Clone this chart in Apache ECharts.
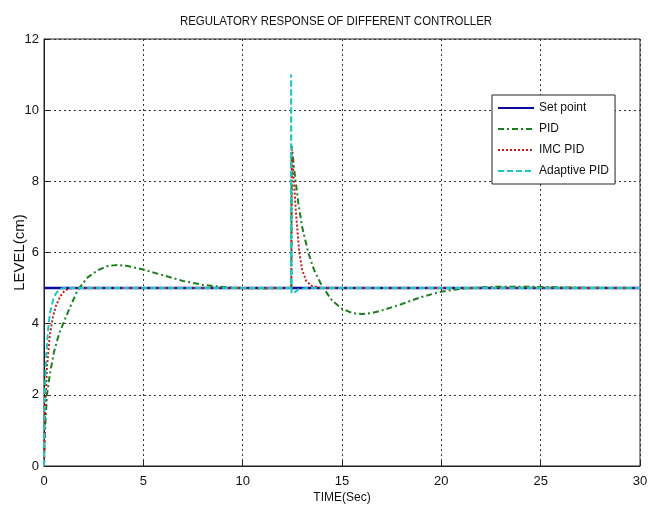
<!DOCTYPE html>
<html>
<head>
<meta charset="utf-8">
<script src="https://cdn.jsdelivr.net/npm/echarts@6/dist/echarts.min.js"></script>
<style>
  html, body { margin: 0; padding: 0; background: #fff; }
  #main { width: 648px; height: 507px; }
</style>
</head>
<body>
<div id="main"></div>
<script>
// time / level pairs
var setT = [0, 30];
var setY = [5, 5];

var pidT = [0, 0.05, 0.15, 0.3, 0.5, 0.75, 1.0, 1.3, 1.7, 2.2, 2.7, 3.2, 3.7, 4.2, 5, 6, 7, 8, 9, 10, 11, 12, 12.45,
            12.47, 12.6, 12.8, 13.0, 13.3, 13.6, 14.0, 14.5, 15.0, 15.5, 16.0, 16.5, 17, 18, 19, 20, 21, 22, 23, 24, 25, 27, 30];
var pidY = [0, 1.0, 2.0, 2.6, 3.2, 3.7, 4.05, 4.45, 4.95, 5.3, 5.5, 5.62, 5.65, 5.62, 5.52, 5.36, 5.2, 5.09, 5.03, 5.0, 4.99, 5.0, 5.0,
            9.0, 8.3, 7.4, 6.7, 6.0, 5.5, 5.05, 4.65, 4.42, 4.3, 4.27, 4.3, 4.37, 4.55, 4.75, 4.9, 4.98, 5.02, 5.04, 5.04, 5.03, 5.01, 5.0];

var imcT = [0, 0.05, 0.15, 0.3, 0.45, 0.6, 0.8, 1.0, 1.2, 1.5, 12.45, 12.47, 12.55, 12.7, 12.85, 13.0, 13.2, 13.5, 14, 30];
var imcY = [0, 1.5, 2.8, 3.7, 4.2, 4.5, 4.75, 4.9, 4.98, 5.0, 5.0, 8.9, 8.2, 7.0, 6.0, 5.5, 5.2, 5.05, 5.0, 5.0];

var adpT = [0, 0.03, 0.1, 0.2, 0.3, 0.45, 0.6, 0.8, 1.0, 12.43, 12.44, 12.46, 12.6, 12.8, 13.2, 30];
var adpY = [0, 1.8, 3.0, 3.8, 4.3, 4.65, 4.85, 4.97, 5.0, 5.0, 11.0, 4.85, 4.87, 4.97, 5.0, 5.0];

var xTicks = [0, 5, 10, 15, 20, 25, 30];
var yTicks = [0, 2, 4, 6, 8, 10, 12];

function pairs(t, y) {
    var out = [];
    for (var i = 0; i < t.length; i++) out.push([t[i], y[i]]);
    return out;
}

var font = "'Liberation Sans', Arial, sans-serif";
var chart = echarts.init(document.getElementById('main'));

var gridLine = { show: true, lineStyle: { color: '#333', type: [2, 3], width: 1 } };

chart.setOption({
    animation: false,
    backgroundColor: '#fff',
    // title drawn as text squeezed a bit, the original uses a narrow face
    graphic: [{
        type: 'text', x: 336, y: 21, scaleX: 0.88,
        style: {
            text: 'REGULATORY RESPONSE OF DIFFERENT CONTROLLER',
            font: '13px ' + font, fill: '#111', align: 'center', verticalAlign: 'middle'
        }
    }],
    grid: { left: 44, right: 8, top: 39, bottom: 41, containLabel: false, outerBoundsMode: 'none',
            show: true, borderColor: '#222', borderWidth: 1, backgroundColor: '#fff' },
    legend: {
        orient: 'vertical', left: 492, top: 95,
        padding: [7, 6, 7, 5], itemGap: 9, itemWidth: 36, itemHeight: 14,
        borderColor: '#222', borderWidth: 1, backgroundColor: '#fff',
        itemStyle: { opacity: 0 },
        textStyle: { fontFamily: font, fontSize: 12, color: '#111' },
        data: ['Set point', 'PID', 'IMC PID', 'Adaptive PID']
    },
    xAxis: {
        type: 'value', min: xTicks[0], max: xTicks[xTicks.length - 1], interval: 5,
        name: 'TIME(Sec)', nameLocation: 'middle', nameGap: 26, nameMoveOverlap: false,
        nameTextStyle: { fontFamily: font, fontSize: 12, color: '#111' },
        axisLine: { lineStyle: { color: '#222' } },
        axisTick: { inside: true, length: 5, lineStyle: { color: '#222' } },
        axisLabel: { fontFamily: font, fontSize: 13, color: '#111', margin: 9 },
        splitLine: gridLine
    },
    yAxis: {
        type: 'value', min: yTicks[0], max: yTicks[yTicks.length - 1], interval: 2,
        name: 'LEVEL(cm)', nameLocation: 'middle', nameGap: 17, nameMoveOverlap: false,
        nameTextStyle: { fontFamily: font, fontSize: 15, color: '#111' },
        axisLine: { lineStyle: { color: '#222' } },
        axisTick: { inside: true, length: 5, lineStyle: { color: '#222' } },
        axisLabel: { fontFamily: font, fontSize: 13, color: '#111', margin: 5 },
        splitLine: gridLine
    },
    series: [
        { name: 'Set point', type: 'line', symbol: 'none', z: 2,
          lineStyle: { color: '#0a0a9a', width: 2.5, type: 'solid' }, itemStyle: { color: '#0a0a9a' },
          data: pairs(setT, setY) },
        { name: 'PID', type: 'line', symbol: 'none', z: 3,
          lineStyle: { color: '#1e7d1e', width: 2, type: [6, 3, 2, 3] }, itemStyle: { color: '#1e7d1e' },
          data: pairs(pidT, pidY) },
        { name: 'IMC PID', type: 'line', symbol: 'none', z: 4,
          lineStyle: { color: '#c81818', width: 2, type: [2, 2] }, itemStyle: { color: '#c81818' },
          data: pairs(imcT, imcY) },
        { name: 'Adaptive PID', type: 'line', symbol: 'none', z: 5,
          lineStyle: { color: '#1fc4c4', width: 2, type: [6, 3] }, itemStyle: { color: '#1fc4c4' },
          data: pairs(adpT, adpY) }
    ]
});
</script>
</body>
</html>
